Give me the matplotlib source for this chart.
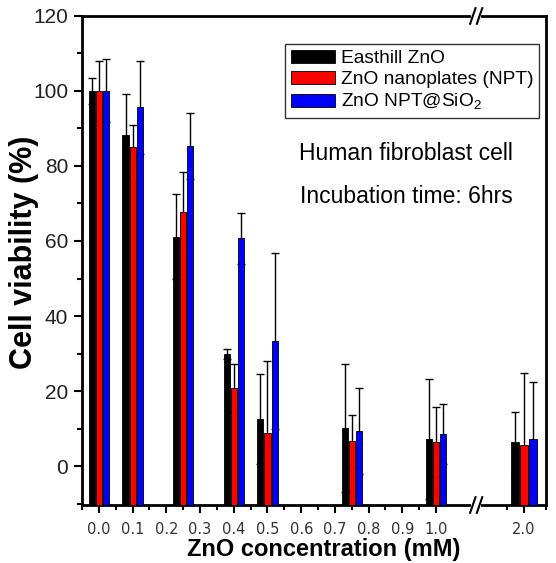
import numpy as np
import matplotlib.pyplot as plt
from matplotlib.patches import Patch
from matplotlib.ticker import FixedLocator, MultipleLocator
import matplotlib.transforms as mtransforms

plt.rcParams['font.family'] = ['Liberation Sans', 'DejaVu Sans']
plt.rcParams['mathtext.fontset'] = 'custom'
plt.rcParams['mathtext.rm'] = 'Liberation Sans'

# data
conc = [0.0, 0.1, 0.25, 0.4, 0.5, 0.75, 1.0, 2.0]
labels = ["Easthill ZnO", "ZnO nanoplates (NPT)", "ZnO NPT@SiO$_2$"]
easthill = [100, 88.3, 61.1, 29.9, 12.5, 10.1, 7.2, 6.4]
easthill_err = [3.5, 11.0, 11.3, 1.3, 12.0, 17.1, 16.0, 8.0]
npt = [100, 85.1, 67.7, 20.8, 8.8, 6.7, 6.4, 5.6]
npt_err = [8.1, 5.7, 10.8, 6.4, 19.2, 6.9, 9.3, 19.2]
sio2 = [100, 95.6, 85.3, 60.7, 33.3, 9.3, 8.5, 7.2]
sio2_err = [8.4, 12.5, 8.7, 6.7, 23.5, 11.5, 8.0, 15.2]
tick_vals = [0.0, 0.1, 0.2, 0.3, 0.4, 0.5, 0.6, 0.7, 0.8, 0.9, 1.0, 2.0]
colors = ['#000000', '#ff0000', '#0000ff']

BREAK = 1.119
YMIN = -10.4


def xpos(c):
    # broken x axis: linear up to 1.0, compressed segment around 2.0
    return c if c <= 1.0 else 1.261 + (c - 2.0) * 0.65


fig = plt.figure(figsize=(5.56, 5.63), dpi=100)
ax = fig.add_axes([0.1475, 0.103, 0.8345, 0.8686])

for i, (vals, errs) in enumerate(zip([easthill, npt, sio2], [easthill_err, npt_err, sio2_err])):
    for c, v, e in zip(conc, vals, errs):
        s = 1.0 if c <= 1.0 else 1.3
        x = xpos(c) + (i - 1) * 0.021 * s
        ax.bar(x, v - YMIN, bottom=YMIN, width=0.018 * s, color=colors[i],
               edgecolor='black', linewidth=0.6, zorder=3)
        ax.errorbar(x, v, yerr=e, fmt='none', ecolor='black', elinewidth=1.0,
                    capsize=3, capthick=1.0, zorder=2)

ax.set_xlim(-0.05, 1.326)
ax.set_ylim(YMIN, 120)

ax.xaxis.set_major_locator(FixedLocator([xpos(t) for t in tick_vals]))
ax.set_xticklabels([f"{t:.1f}" for t in tick_vals], fontsize=10.5, color='#333333',
                   family='DejaVu Sans')
minor_x = [-0.05] + [0.05 + 0.1 * k for k in range(10)] + [xpos(1.92), xpos(2.1)]
ax.xaxis.set_minor_locator(FixedLocator(minor_x))
ax.yaxis.set_major_locator(MultipleLocator(20))
ax.yaxis.set_minor_locator(MultipleLocator(10))
for lab in ax.get_yticklabels():
    lab.set_fontsize(15)
    lab.set_color('#222222')

ax.tick_params(which='major', direction='out', length=6, width=1.5, pad=4)
ax.tick_params(which='minor', direction='out', length=3.5, width=1.5)
ax.tick_params(axis='x', which='major', pad=6)

for sp in ax.spines.values():
    sp.set_linewidth(2)

ax.set_ylabel("Cell viability (%)", fontsize=22, fontweight='bold')
ax.yaxis.set_label_coords(-0.093, 0.517)
ax.set_xlabel("ZnO concentration (mM)", fontsize=17, fontweight='bold')
ax.xaxis.set_label_coords(0.52, -0.068)

# break marks on the bottom and top spines
trans = mtransforms.blended_transform_factory(ax.transData, ax.transAxes)
for yb in (0.0, 1.0):
    ax.plot([BREAK - 0.009, BREAK + 0.009], [yb, yb], color='white', lw=3,
            transform=trans, clip_on=False, zorder=10)
    for dx in (-0.01, 0.01):
        ax.plot([BREAK + dx - 0.008, BREAK + dx + 0.008], [yb - 0.016, yb + 0.016],
                color='black', lw=1.5, transform=trans, clip_on=False, zorder=11)

handles = [Patch(facecolor=c, edgecolor='black', linewidth=0.6, label=l)
           for c, l in zip(colors, labels)]
leg = ax.legend(handles=handles, loc='upper right', bbox_to_anchor=(0.985, 0.943),
                fontsize=13.8, frameon=True, fancybox=False, handlelength=2.3,
                handleheight=0.7, handletextpad=0.3, borderpad=0.3, labelspacing=0.2,
                borderaxespad=0)
leg.get_frame().set_edgecolor('black')
leg.get_frame().set_linewidth(1.0)

ax.text(0.699, 0.718, "Human fibroblast cell", transform=ax.transAxes,
        fontsize=16.5, ha='center', va='center')
ax.text(0.699, 0.630, "Incubation time: 6hrs", transform=ax.transAxes,
        fontsize=16.5, ha='center', va='center')

fig.savefig("out.png", dpi=100)
